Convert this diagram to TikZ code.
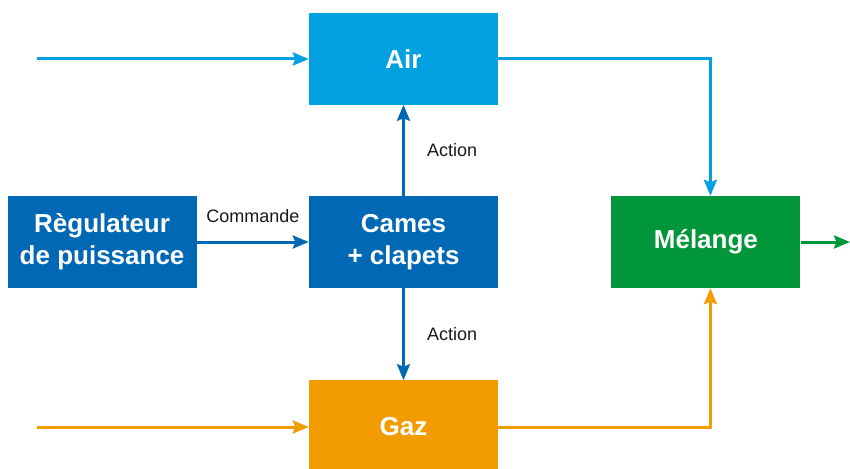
\documentclass[tikz,border=0pt]{standalone}
\usepackage{fontspec}
\setmainfont{Liberation Sans}
\usepackage{xcolor}
\usetikzlibrary{arrows.meta,positioning}

\definecolor{bleuclair}{RGB}{0,160,225}
\definecolor{bleufonce}{RGB}{0,104,180}
\definecolor{orangegaz}{RGB}{243,156,0}
\definecolor{vertmel}{RGB}{0,150,57}

\begin{document}
\begin{tikzpicture}[x=1pt, y=-1pt, >={Stealth[length=16pt,width=13pt,inset=2.5pt]},
    bloc/.style={rectangle, minimum width=189pt, minimum height=92pt, inner sep=0pt, align=center,
        text=white, font=\bfseries\fontsize{26}{32}\selectfont},
    fleche/.style={->, line width=3pt},
    lbl/.style={inner sep=0pt, font=\fontsize{18}{20}\selectfont, text=black!90}]
    \useasboundingbox (0,0) rectangle (850,468);
    \node[bloc, fill=bleufonce] (cames) at (403.5,242) {Cames\\+ clapets};
    \node[bloc, fill=bleuclair, above=91pt of cames] (air) {Air};
    \node[bloc, fill=orangegaz, below=92pt of cames] (gaz) {Gaz};
    \node[bloc, fill=bleufonce, left=112pt of cames] (regul) {Règulateur\\de puissance};
    \node[bloc, fill=vertmel, right=113pt of cames] (melange) {Mélange};
    \coordinate (airin) at (37,59);
    \coordinate (gazin) at (37,427);
    \coordinate (sortie) at (850,242);
    \draw[fleche, bleuclair] (airin) -- (airin -| air.west);
    \draw[fleche, orangegaz] (gazin) -- (gazin -| gaz.west);
    \draw[fleche, bleufonce] (regul) -- node[lbl, midway, above=18pt] {Commande} (cames);
    \draw[fleche, bleufonce] (cames) -- node[lbl, midway, right=22pt] {Action} (air);
    \draw[fleche, bleufonce] (cames) -- node[lbl, midway, right=22pt] {Action} (gaz);
    \draw[fleche, bleuclair] (air.east) -| ([xshift=4.5pt]melange.north);
    \draw[fleche, orangegaz] (gaz.east |- gazin) -| ([xshift=4.5pt]melange.south);
    \draw[fleche, vertmel] (melange) -- (sortie);
\end{tikzpicture}
\end{document}
